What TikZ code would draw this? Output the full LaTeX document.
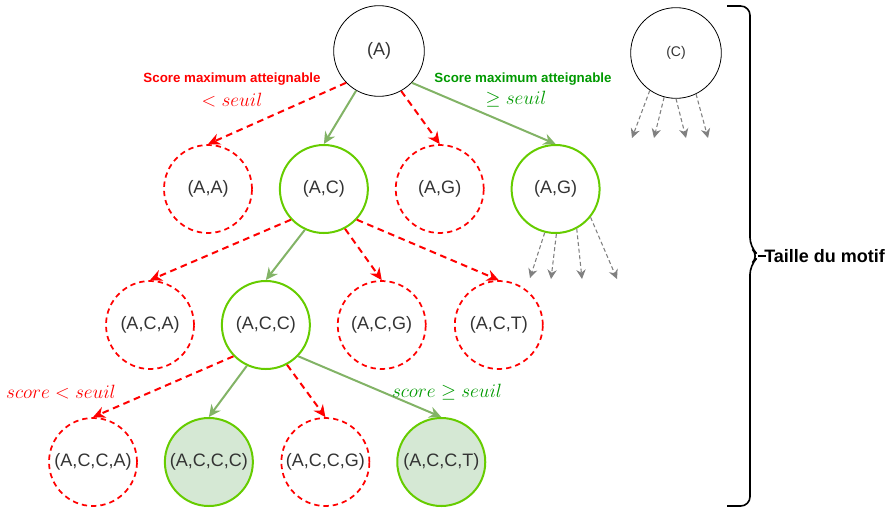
\documentclass[tikz,border=0pt]{standalone}
\usepackage{fontspec}
\setmainfont{Liberation Sans}
\usepackage{tikz}
\usetikzlibrary{arrows.meta,positioning}
\definecolor{prunered}{HTML}{FF0000}
\definecolor{keepgreen}{HTML}{66CC00}
\definecolor{edgegreen}{HTML}{82B366}
\definecolor{solfill}{HTML}{D5E8D4}
\definecolor{txtgreen}{HTML}{009900}
\definecolor{nodetext}{HTML}{333333}
\tikzset{motif/.style={circle, minimum size=66pt, inner sep=0pt, text=nodetext, font=\fontsize{13.5}{16}\selectfont},
  rootnode/.style={motif, draw=black, line width=0.6pt, minimum size=68pt},
  prunenode/.style={motif, draw=prunered, dash pattern=on 4pt off 3pt, line width=1.3pt},
  keepnode/.style={motif, draw=keepgreen, line width=1.5pt},
  solnode/.style={keepnode, fill=solfill},
  prunearrow/.style={-{Stealth[length=9pt,width=8.5pt]}, prunered, line width=1.5pt, dash pattern=on 5pt off 3.5pt},
  keeparrow/.style={-{Stealth[length=9pt,width=8.5pt]}, edgegreen, line width=1.5pt},
  morearrow/.style={-{Stealth[length=7pt,width=7pt]}, gray, line width=0.8pt, dash pattern=on 3pt off 2pt},
  redlbl/.style={text=prunered, font=\fontsize{14.5}{16}\selectfont},
  greenlbl/.style={text=txtgreen, font=\fontsize{14.5}{16}\selectfont}}

\begin{document}
\begin{tikzpicture}[x=0.75pt, y=-0.75pt]
\useasboundingbox (0,0) rectangle (888,511);
% racines
\node[rootnode] (a) at (379,51) {(A)};
\node[rootnode, font=\fontsize{10.5}{12}\selectfont] (c) at (676,53) {(C)};
% niveau 2
\node[prunenode] (aa) at (208,189) {(A,A)};
\node[keepnode, right=19.5pt of aa] (ac) {(A,C)};
\node[prunenode, right=19.5pt of ac] (ag) {(A,G)};
\node[keepnode, right=19.5pt of ag] (agg) {(A,G)};
% niveau 3
\node[prunenode] (aca) at (150,325) {(A,C,A)};
\node[keepnode, right=19.5pt of aca] (acc) {(A,C,C)};
\node[prunenode, right=19.5pt of acc] (acg) {(A,C,G)};
\node[prunenode, right=20.5pt of acg] (act) {(A,C,T)};
% niveau 4
\node[prunenode] (acca) at (93,462) {(A,C,C,A)};
\node[solnode, right=19.5pt of acca] (accc) {(A,C,C,C)};
\node[prunenode, right=20pt of accc] (accg) {(A,C,C,G)};
\node[solnode, right=19.5pt of accg] (acct) {(A,C,C,T)};
% aretes
\draw[prunearrow] (a.224) -- (aa.north);
\draw[keeparrow] (a.240) -- (ac.north);
\draw[prunearrow] (a.299) -- (ag.north);
\draw[keeparrow] (a.316) -- (agg.north);
\draw[prunearrow] (ac.223) -- (aca.north);
\draw[keeparrow] (ac.245) -- (acc.north);
\draw[prunearrow] (ac.298) -- (acg.north);
\draw[prunearrow] (ac.317) -- (act.north);
\draw[prunearrow] (acc.224) -- (acca.north);
\draw[keeparrow] (acc.245) -- (accc.north);
\draw[prunearrow] (acc.298) -- (accg.north);
\draw[keeparrow] (acc.316) -- (acct.north);
% suite de l'arbre
\coordinate (c1) at (632,138);
\coordinate (c2) at (654,138);
\coordinate (c3) at (686,138);
\coordinate (c4) at (708,138);
\draw[morearrow] (c.235) -- (c1);
\draw[morearrow] (c.255) -- (c2);
\draw[morearrow] (c.270) -- (c3);
\draw[morearrow] (c.296) -- (c4);
\coordinate (g1) at (530,278);
\coordinate (g2) at (551,279);
\coordinate (g3) at (582,279);
\coordinate (g4) at (617,279);
\draw[morearrow] (agg.256) -- (g1);
\draw[morearrow] (agg.271) -- (g2);
\draw[morearrow] (agg.298) -- (g3);
\draw[morearrow] (agg.321) -- (g4);
% etiquettes
\node[text=prunered, font=\bfseries\fontsize{10}{12}\selectfont] (lowtxt) at (232,79) {Score maximum atteignable};
\node[redlbl] (lowmath) at (232,100) {$<seuil$};
\node[text=txtgreen, font=\bfseries\fontsize{10}{12}\selectfont] (hightxt) at (523,79) {Score maximum atteignable};
\node[greenlbl] (highmath) at (516,99) {$\geq seuil$};
\node[redlbl] (lowscore) at (61,392) {$score<seuil$};
\node[greenlbl] (highscore) at (447,392) {$score\geq seuil$};
% accolade
\draw[line width=1.2pt, rounded corners=7pt] (727,6) -- (750,6) -- (750,247) -- (759,256) -- (750,265) -- (750,506) -- (727,506);
\draw[line width=1.2pt] (758,256) -- (766,256);
\node[anchor=west, inner sep=0pt, font=\bfseries\fontsize{13.5}{16}\selectfont] (taille) at (764,256) {Taille du motif};
\end{tikzpicture}
\end{document}
